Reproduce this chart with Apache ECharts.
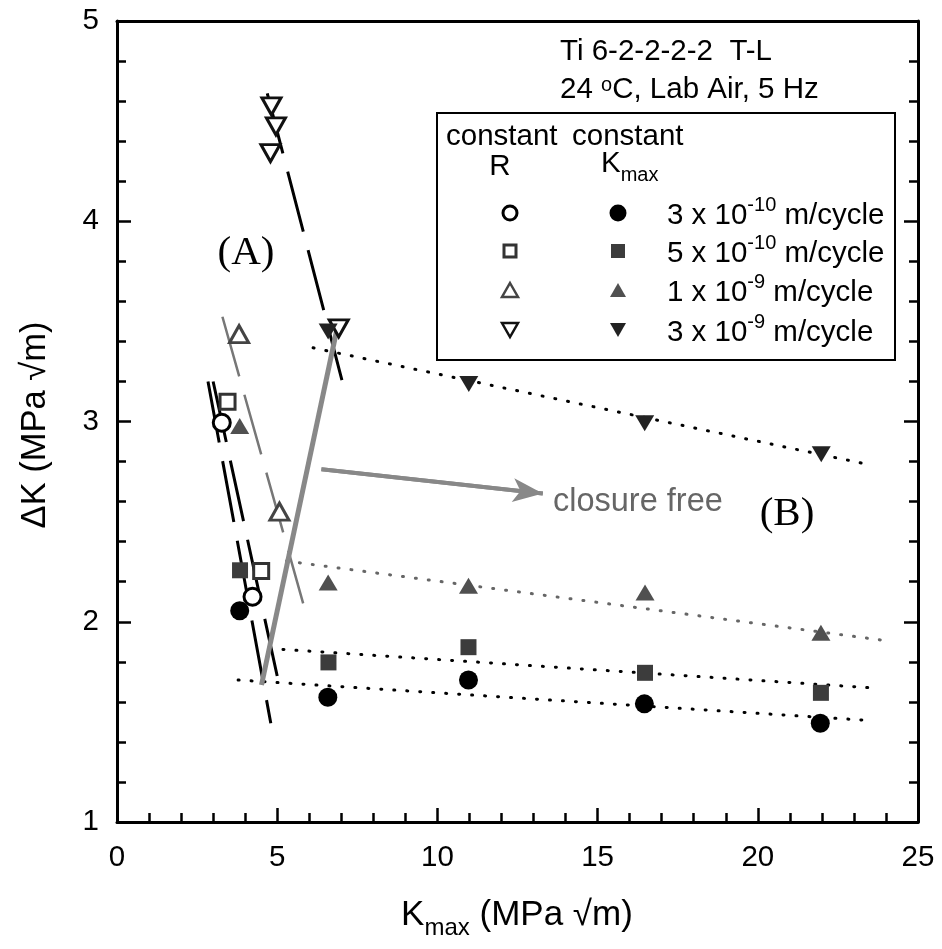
<!DOCTYPE html>
<html><head><meta charset="utf-8">
<script src="https://cdn.jsdelivr.net/npm/echarts@6/dist/echarts.min.js"></script>
<style>html,body{margin:0;padding:0;background:#fff}#c{width:942px;height:949px}</style>
</head><body><div id="c"></div>
<script>
// ---------------- data ----------------
const xTickLabels = ['0', '5', '10', '15', '20', '25'];
const yTickLabels = ['1', '2', '3', '4', '5'];

// constant R (open symbols) : [Kmax, dK]
const rCircle   = [[3.27, 2.994], [4.23, 2.125]];
const rSquare   = [[3.45, 3.099], [4.50, 2.254]];
const rTriUp    = [[3.81, 3.436], [5.07, 2.550]];
const rTriDown  = [[4.82, 4.574], [4.96, 4.474], [4.79, 4.340], [6.92, 3.465]];

// constant Kmax (filled symbols)
const kCircle   = [[3.83, 2.055], [6.58, 1.623], [10.97, 1.709], [16.46, 1.590], [21.95, 1.493]];
const kSquare   = [[3.84, 2.257], [6.60, 1.797], [10.97, 1.873], [16.48, 1.745], [21.97, 1.645]];
const kTriUp    = [[3.83, 2.978], [6.59, 2.196], [10.97, 2.180], [16.48, 2.146], [21.97, 1.945]];
const kTriDown  = [[6.59, 3.449], [10.98, 3.187], [16.47, 2.991], [21.98, 2.837]];

// trend lines
const rLineA       = [[2.84, 3.200], [4.80, 1.493]];
const rLineB       = [[3.00, 3.200], [5.00, 1.729]];
const rLineTri     = [[3.29, 3.523], [5.81, 2.092]];
const rLineTriDown = [[4.69, 4.639], [7.02, 3.207]];
const kLine3e10    = [[3.78, 1.709], [23.58, 1.506]];
const kLine5e10    = [[5.18, 1.862], [23.73, 1.668]];
const kLine1e9     = [[5.29, 2.303], [23.84, 1.909]];
const kLine3e9     = [[6.12, 3.368], [23.37, 2.788]];
const closureFree  = [[4.51, 1.684], [6.85, 3.450]];
const arrowLine    = [[6.38, 2.761], [13.29, 2.641]];

// texts
const infoLines = ['Ti 6-2-2-2-2  T-L', '24 {sup|o}C, Lab Air, 5 Hz'];
const legendHeader = ['constant', 'constant', 'R', 'K', 'max'];
const legendRates = [['3 x 10', '-10', ' m/cycle'], ['5 x 10', '-10', ' m/cycle'], ['1 x 10', '-9', ' m/cycle'], ['3 x 10', '-9', ' m/cycle']];
const xTitle = ['K', 'max', ' (MPa \u221Am)'];
const yTitle = '\u0394K (MPa \u221Am)';

// ---------------- chart ----------------
const FONT = '"Liberation Sans", Arial, Helvetica, sans-serif';
const SERIF = '"Liberation Serif", "Times New Roman", serif';
const chart = echarts.init(document.getElementById('c'), null, {renderer: 'canvas', width: 942, height: 949});

function lineS(data, color, width, type, z) {
  return {type: 'line', data: data, symbol: 'none', showSymbol: false, silent: true, animation: false, z: z || 2,
    lineStyle: {color: color, width: width, type: type, cap: 'butt'}};
}
function dotS(data, color) {
  return {type: 'line', data: data, symbol: 'none', showSymbol: false, silent: true, animation: false, z: 2,
    lineStyle: {color: color, width: 3, type: [1, 12], cap: 'round'}};
}
function scat(data, symbol, size, fill, stroke, bw, rot) {
  return {type: 'scatter', data: data, symbol: symbol, symbolSize: size, symbolRotate: rot || 0, silent: true, animation: false, z: 5,
    itemStyle: {color: fill, borderColor: stroke, borderWidth: bw, opacity: 1}};
}

const axisLineStyle = {color: '#000', width: 3};
const tickStyle = {color: '#000', width: 2.5};

const series = [
  lineS(rLineA, '#000', 3, [62, 19]),
  lineS(rLineB, '#000', 3, [62, 19]),
  lineS(rLineTri, '#777', 2.5, [62, 19]),
  lineS(rLineTriDown, '#000', 3, [62, 19]),
  dotS(kLine3e10, '#000'),
  dotS(kLine5e10, '#000'),
  dotS(kLine1e9, '#666'),
  dotS(kLine3e9, '#000'),
  lineS(closureFree, '#888', 5, 'solid', 3),
  Object.assign(lineS(arrowLine, '#888', 4, 'solid', 3), {
    markLine: {
      silent: true, animation: false, symbol: ['none', 'arrow'], symbolSize: [18, 30],
      lineStyle: {color: '#888', width: 4, type: 'solid'}, label: {show: false},
      data: [[{coord: arrowLine[0]}, {coord: arrowLine[1]}]]
    }
  }),
  scat(rCircle, 'circle', 17, '#fff', '#000', 3),
  scat(rSquare, 'rect', 15, '#fff', '#333', 3),
  scat(rTriUp, 'triangle', [19, 17], '#fff', '#444', 3),
  scat(rTriDown, 'triangle', [19, 17], '#fff', '#111', 3, 180),
  scat(kCircle, 'circle', 19, '#000', '#000', 0),
  scat(kSquare, 'rect', 16, '#3c3c3c', '#3c3c3c', 0),
  scat(kTriUp, 'triangle', [19, 16], '#505050', '#505050', 0),
  scat(kTriDown, 'triangle', [19, 16], '#222', '#222', 0, 180)
];

// legend + annotations (layout only)
const g = [];
function txt(x, y, text, size, opts) {
  const o = Object.assign({type: 'text', x: x, y: y, z: 10, silent: true,
    style: Object.assign({text: text, fontSize: size, fontFamily: FONT, fill: '#000', textAlign: 'left', textVerticalAlign: 'middle'}, opts || {})});
  g.push(o);
}
const TS = 29.5;
txt(560, 52, infoLines[0], TS);
txt(560, 90, infoLines[1], TS, {rich: {sup: {fontSize: 20, fontFamily: FONT, verticalAlign: 'top', lineHeight: 18}}});

g.push({type: 'rect', shape: {x: 437, y: 113, width: 458, height: 247}, style: {fill: '#fff', stroke: '#000', lineWidth: 2}, z: 9, silent: true});
txt(446, 137, legendHeader[0], TS);
txt(572, 137, legendHeader[1], TS);
txt(500, 167, legendHeader[2], TS, {textAlign: 'center'});
txt(601, 167, '{m|' + legendHeader[3] + '}{s|' + legendHeader[4] + '}', TS, {rich: {m: {fontSize: TS, fontFamily: FONT, lineHeight: 36, verticalAlign: 'top'}, s: {fontSize: 20, fontFamily: FONT, lineHeight: 18, verticalAlign: 'bottom'}}});

const rowsY = [213, 251, 290, 330];
legendRates.forEach(function (r, i) {
  txt(667, rowsY[i], '{m|' + r[0] + '}{s|' + r[1] + '}{m|' + r[2] + '}', TS,
    {rich: {m: {fontSize: TS, fontFamily: FONT, lineHeight: 36, verticalAlign: 'bottom'}, s: {fontSize: 20, fontFamily: FONT, lineHeight: 18, verticalAlign: 'top'}}});
});
// legend keys
const ox = 510, fx = 618;
g.push({type: 'circle', shape: {cx: ox, cy: rowsY[0], r: 7}, style: {fill: '#fff', stroke: '#000', lineWidth: 3}, z: 10, silent: true});
g.push({type: 'circle', shape: {cx: fx, cy: rowsY[0], r: 8.5}, style: {fill: '#000'}, z: 10, silent: true});
g.push({type: 'rect', shape: {x: ox - 6, y: rowsY[1] - 6, width: 12, height: 12}, style: {fill: '#fff', stroke: '#333', lineWidth: 3}, z: 10, silent: true});
g.push({type: 'rect', shape: {x: fx - 7, y: rowsY[1] - 7, width: 14, height: 14}, style: {fill: '#3c3c3c'}, z: 10, silent: true});
g.push({type: 'polygon', shape: {points: [[ox, rowsY[2] - 7], [ox + 8, rowsY[2] + 7], [ox - 8, rowsY[2] + 7]]}, style: {fill: '#fff', stroke: '#444', lineWidth: 2.5}, z: 10, silent: true});
g.push({type: 'polygon', shape: {points: [[fx, rowsY[2] - 7], [fx + 8, rowsY[2] + 7], [fx - 8, rowsY[2] + 7]]}, style: {fill: '#505050'}, z: 10, silent: true});
g.push({type: 'polygon', shape: {points: [[ox - 8, rowsY[3] - 7], [ox + 8, rowsY[3] - 7], [ox, rowsY[3] + 7]]}, style: {fill: '#fff', stroke: '#111', lineWidth: 2.5}, z: 10, silent: true});
g.push({type: 'polygon', shape: {points: [[fx - 8, rowsY[3] - 7], [fx + 8, rowsY[3] - 7], [fx, rowsY[3] + 7]]}, style: {fill: '#222'}, z: 10, silent: true});

// annotations
txt(246, 253, '(A)', 41, {fontFamily: SERIF, textAlign: 'center'});
txt(787, 514, '(B)', 41, {fontFamily: SERIF, textAlign: 'center'});
txt(553, 502, 'closure free', 32.5, {fill: '#666'});

// axis titles
txt(517, 919, '{m|' + xTitle[0] + '}{s|' + xTitle[1] + '}{m|' + xTitle[2] + '}', 35,
  {textAlign: 'center', rich: {m: {fontSize: 35, fontFamily: FONT, lineHeight: 42, verticalAlign: 'top'}, s: {fontSize: 24, fontFamily: FONT, lineHeight: 22, verticalAlign: 'bottom'}}});
g.push({type: 'text', x: 35, y: 425, rotation: Math.PI / 2, z: 10, silent: true,
  style: {text: yTitle, fontSize: 34.5, fontFamily: FONT, fill: '#000', textAlign: 'center', textVerticalAlign: 'middle'}});

const option = {
  backgroundColor: '#fff',
  animation: false,
  grid: {left: 117, right: 24, top: 21, bottom: 127, containLabel: false, outerBoundsMode: 'none'},
  xAxis: [{
    type: 'value', min: 0, max: 25, interval: 5, position: 'bottom',
    axisLine: {show: true, onZero: false, lineStyle: axisLineStyle},
    axisTick: {show: true, inside: true, length: 14, lineStyle: tickStyle},
    minorTick: {show: true, splitNumber: 5, length: 9, lineStyle: tickStyle},
    splitLine: {show: false}, minorSplitLine: {show: false},
    axisLabel: {show: true, margin: 21, fontSize: 29.5, fontFamily: FONT, color: '#000',
      formatter: function (v) { return xTickLabels[Math.round(v / 5)]; }}
  }, {
    type: 'value', min: 0, max: 25, interval: 5, position: 'top',
    axisLine: {show: true, onZero: false, lineStyle: axisLineStyle},
    axisTick: {show: false}, minorTick: {show: false}, axisLabel: {show: false}, splitLine: {show: false}
  }],
  yAxis: [{
    type: 'value', min: 1, max: 5, interval: 1, position: 'left',
    axisLine: {show: true, onZero: false, lineStyle: axisLineStyle},
    axisTick: {show: true, inside: true, length: 14, lineStyle: tickStyle},
    minorTick: {show: true, splitNumber: 5, length: 9, lineStyle: tickStyle},
    splitLine: {show: false}, minorSplitLine: {show: false},
    axisLabel: {show: true, margin: 18, fontSize: 29.5, fontFamily: FONT, color: '#000',
      formatter: function (v) { return yTickLabels[Math.round(v - 1)]; }}
  }, {
    type: 'value', min: 1, max: 5, interval: 1, position: 'right',
    axisLine: {show: true, onZero: false, lineStyle: axisLineStyle},
    axisTick: {show: true, inside: true, length: 14, lineStyle: tickStyle},
    minorTick: {show: true, splitNumber: 5, length: 9, lineStyle: tickStyle},
    axisLabel: {show: false}, splitLine: {show: false}, minorSplitLine: {show: false}
  }],
  series: series,
  graphic: g
};
chart.setOption(option);
</script>
</body></html>
